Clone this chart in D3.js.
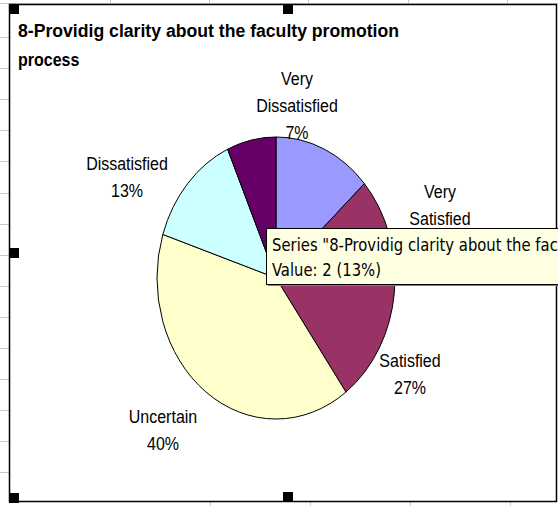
<!DOCTYPE html>
<html>
<head>
<meta charset="utf-8">
<script src="https://cdn.jsdelivr.net/npm/d3@7"></script>
<style>
  html, body { margin: 0; padding: 0; background: #fff; }
  svg { display: block; }
</style>
</head>
<body>
<div id="chart"></div>
<script>
// Dados do gráfico (ordem das fatias, sentido horário a partir do topo)
const categories = ["Very Satisfied", "Satisfied", "Uncertain", "Dissatisfied", "Very Dissatisfied"];
const values = [2, 4, 6, 2, 1];
const sliceColors = ["#9999FF", "#993366", "#FFFFCC", "#CCFFFF", "#660066"];
const titleLines = ["8-Providig clarity about the faculty promotion", "process"];
const tooltipLines = ['Series "8-Providig clarity about the faculty promotion process" Point "Very Satisfied"', "Value: 2 (13%)"];

// Layout (a captura original está esticada na vertical)
const W = 558, H = 506;
const sy = 1.185;
const pie = { cx: 276, cy: 278, r: 119 };
const labelAt = {
    "Very Dissatisfied": [297, 85],
    "Very Satisfied": [440, 198],
    "Satisfied": [410, 367],
    "Uncertain": [163, 423],
    "Dissatisfied": [127, 170]
};
const lineGap = 27;

const svg = d3.select("#chart")
    .append("svg")
    .attr("width", W)
    .attr("height", H);

// Fundo da planilha: linhas de grade visíveis fora do gráfico
const grid = svg.append("g").attr("stroke", "#c8c8c8").attr("stroke-width", 1);
d3.range(37, 480, 31.1).forEach(y => {
    grid.append("line").attr("x1", 0).attr("x2", 9).attr("y1", Math.round(y) + 0.5).attr("y2", Math.round(y) + 0.5);
});
grid.append("line").attr("x1", 0).attr("x2", W).attr("y1", 3.5).attr("y2", 3.5);
[110, 209, 308, 408, 507].forEach(x => {
    grid.append("line").attr("x1", x + 0.5).attr("x2", x + 0.5).attr("y1", 0).attr("y2", 4);
});
[210, 310, 410, 510].forEach(x => {
    grid.append("line").attr("x1", x + 0.5).attr("x2", x + 0.5).attr("y1", 502).attr("y2", H);
});

// Borda da área do gráfico
svg.append("rect")
    .attr("x", 9.5).attr("y", 4.5)
    .attr("width", 547).attr("height", 497)
    .attr("fill", "#fff")
    .attr("stroke", "#000")
    .attr("stroke-width", 1.5);

// Alças de seleção
[[9, 4], [283, 4], [9, 248], [9, 493], [283, 492]].forEach(([x, y]) => {
    svg.append("rect").attr("x", x).attr("y", y).attr("width", 10).attr("height", 10).attr("fill", "#000");
});

// Título
titleLines.forEach((t, i) => {
    const txt = svg.append("text")
        .attr("transform", `translate(18,${37 + i * 29}) scale(1,${sy})`)
        .attr("font-family", "'Liberation Sans', Arial, sans-serif")
        .attr("font-weight", "bold")
        .attr("font-size", 16)
        .attr("fill", "#000")
        .text(t);
    if (i === 0) txt.attr("textLength", 381).attr("lengthAdjust", "spacingAndGlyphs");
});

// Pizza
const total = d3.sum(values);
const pieData = d3.pie().sort(null).value(d => d)(values);
const arc = d3.arc().innerRadius(0).outerRadius(pie.r);

const g = svg.append("g")
    .attr("transform", `translate(${pie.cx},${pie.cy}) scale(1,${sy})`);

g.selectAll("path")
    .data(pieData)
    .enter()
    .append("path")
    .attr("d", arc)
    .attr("fill", (d, i) => sliceColors[i])
    .attr("stroke", "#000")
    .attr("stroke-width", 1)
    .attr("vector-effect", "non-scaling-stroke");

// Rótulos
const pct = d3.format(".0%");
categories.forEach((c, i) => {
    const words = c.split(" ");
    const lines = words.length > 1 ? words : [c];
    lines.push(pct(values[i] / total));
    const [x, y] = labelAt[c];
    lines.forEach((ln, j) => {
        svg.append("text")
            .attr("transform", `translate(${x},${y + j * lineGap}) scale(1,${sy})`)
            .attr("text-anchor", "middle")
            .attr("font-family", "'Liberation Sans', Arial, sans-serif")
            .attr("font-size", 16)
            .attr("fill", "#000")
            .text(ln);
    });
});

// Dica de ferramenta (tooltip) do Excel
const tip = svg.append("g");
tip.append("rect")
    .attr("x", 268).attr("y", 230)
    .attr("width", 320).attr("height", 56)
    .attr("fill", "#808080");
tip.append("rect")
    .attr("x", 266.5).attr("y", 228.5)
    .attr("width", 320).attr("height", 56)
    .attr("fill", "#FFFFE1")
    .attr("stroke", "#000")
    .attr("stroke-width", 1);
tooltipLines.forEach((t, i) => {
    tip.append("text")
        .attr("transform", `translate(272,${251 + i * 25}) scale(1,1.12)`)
        .attr("font-family", "'DejaVu Sans Condensed', 'DejaVu Sans', sans-serif")
        .attr("font-size", 16.5)
        .attr("fill", "#000")
        .text(t);
});
</script>
</body>
</html>
